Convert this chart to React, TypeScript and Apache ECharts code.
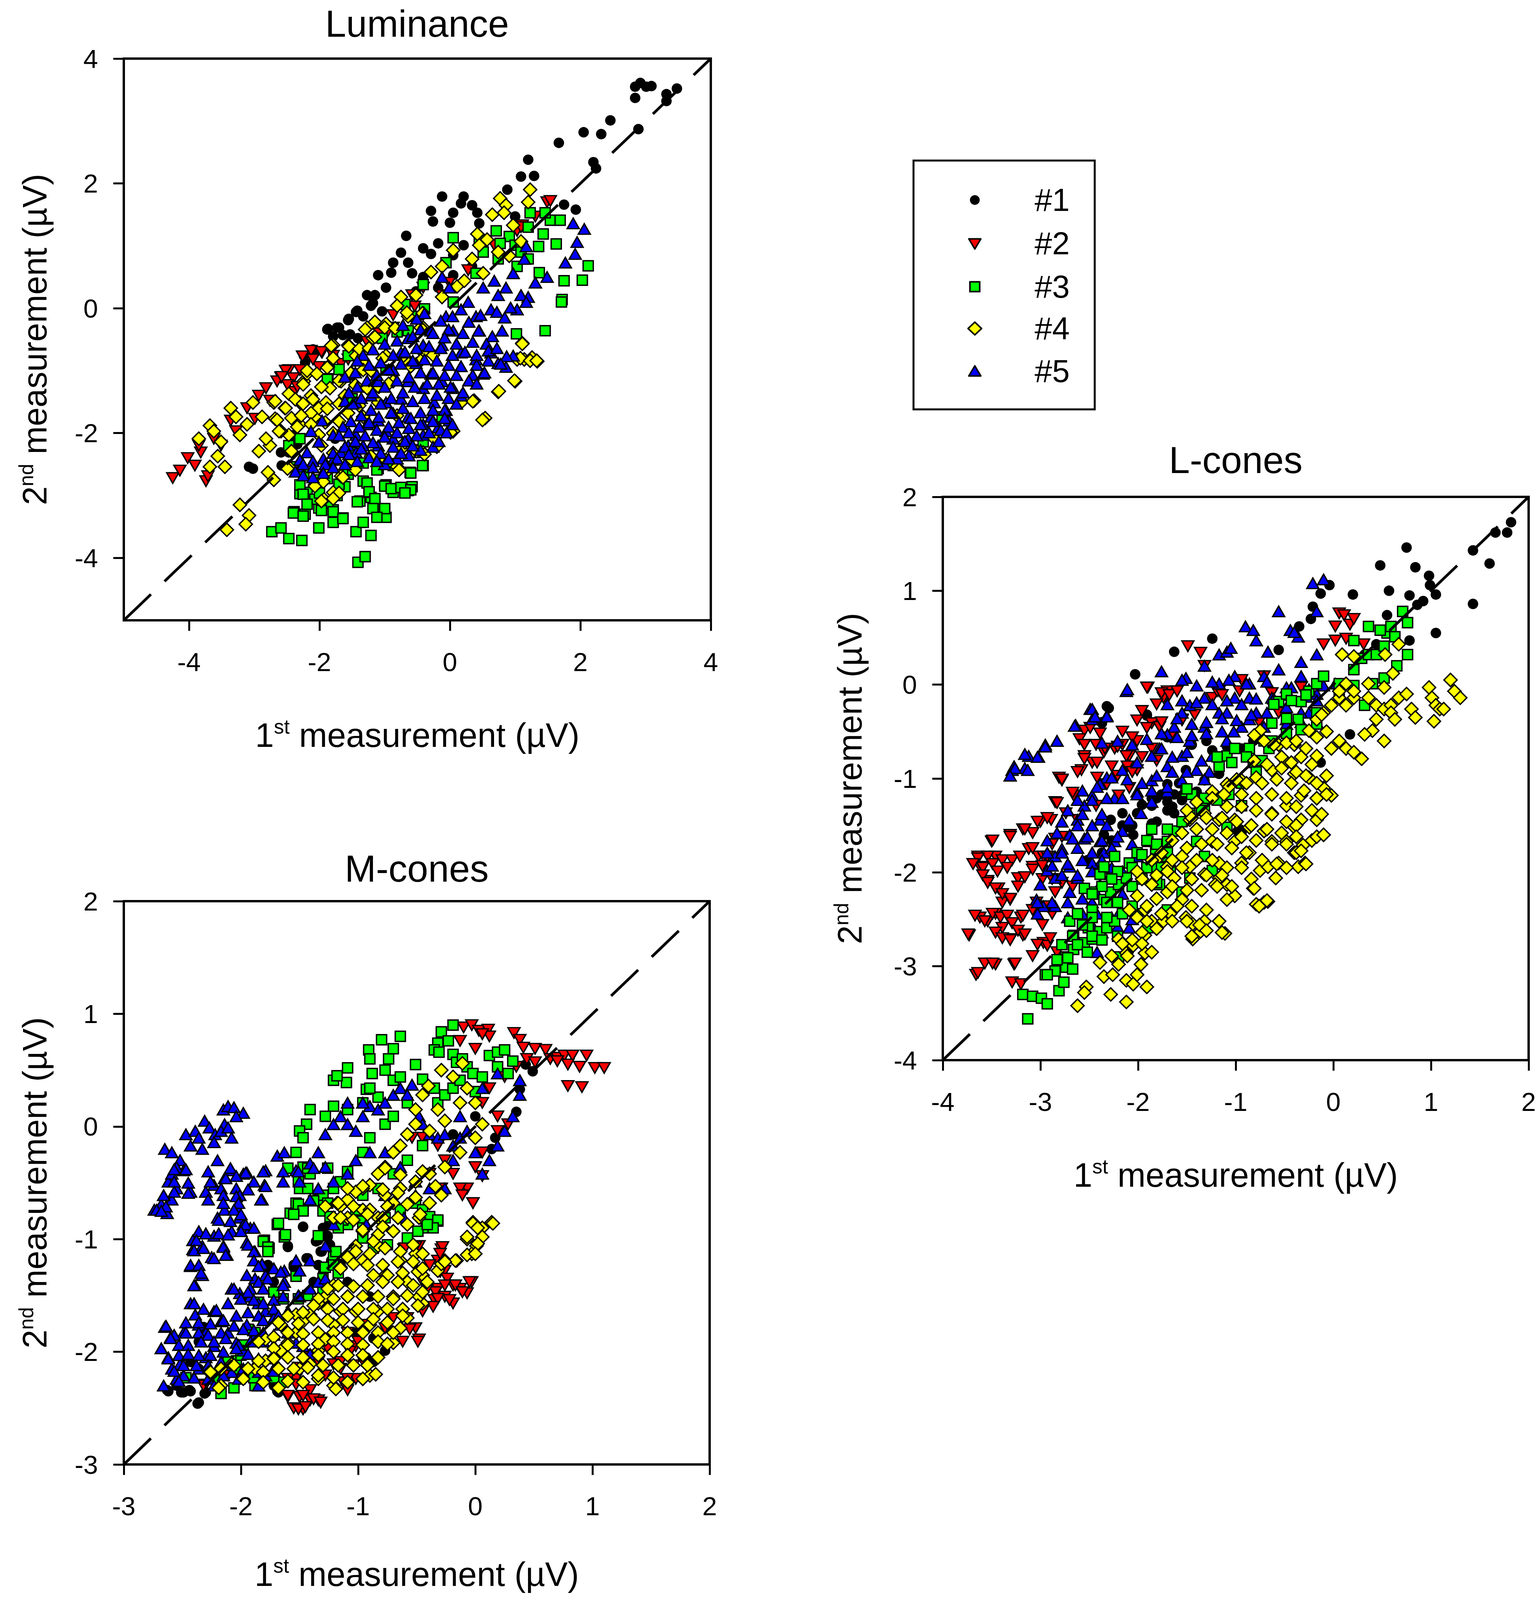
import React, { useEffect, useRef } from "react";
import * as echarts from "echarts";

const FONT = "'Liberation Sans', Arial, sans-serif";
const REF_W = 3938;
const REF_H = 4260;

const seriesNames = ["#1", "#2", "#3", "#4", "#5"];
const seriesColors = ["#000000", "#FF0000", "#00FF00", "#FFFF00", "#0000FF"];

const lumTicks = [-4, -2, 0, 2, 4];
const lTicks = [-4, -3, -2, -1, 0, 1, 2];
const mTicks = [-3, -2, -1, 0, 1, 2];

// ---------- Luminance ----------
const lumS1 = [[2.84,3.55],[2.92,3.61],[3.01,3.55],[3.09,3.56],[2.84,3.37],[3.32,3.43],[3.48,3.52],[3.32,3.32],[2.46,3.01],[2.05,2.82],[2.32,2.79],[2.89,2.87],[1.67,2.65],[1.20,2.38],[2.20,2.34],[2.24,2.24],[1.09,2.11],[1.29,2.12],[0.88,1.90],[-0.12,1.79],[0.21,1.79],[0.17,1.68],[0.34,1.65],[0.42,1.53],[1.00,1.47],[1.75,1.66],[1.93,1.58],[-0.29,1.56],[0.05,1.53],[-0.26,1.39],[0.00,1.37],[0.45,1.36],[-0.67,1.16],[-0.41,0.96],[-0.18,1.04],[-0.75,0.89],[-0.29,0.87],[0.05,0.85],[0.21,1.01],[-0.87,0.73],[-0.64,0.73],[-1.10,0.53],[-0.90,0.57],[-0.58,0.56],[-0.41,0.50],[-1.27,0.21],[-1.15,0.21],[-0.98,0.33],[-1.21,0.04],[-1.04,-0.05],[-1.33,-0.13],[-1.44,-0.06],[-1.56,-0.19],[-1.87,-0.33],[-1.70,-0.31],[-1.53,-0.42],[-1.41,-0.48],[-0.18,0.33],[-0.52,0.27],[0.05,0.53],[0.34,0.67],[-2.07,-0.71],[-2.24,-0.76],[-2.39,-2.03],[-2.47,-2.31],[-3.02,-2.57],[-3.08,-2.54],[-1.79,-0.76],[-2.59,-2.31]];
const lumS1b = [[-1.18,0.08],[-1.42,-0.04],[-1.55,-0.17],[-1.73,-0.31],[-1.88,-0.34],[-1.79,-0.45],[-1.64,-0.43],[-2.10,-0.66],[-2.22,-0.87],[-2.40,-2.04],[-2.34,-2.18],[-2.58,-2.52],[-1.61,-2.55],[-1.76,-2.09]];
const lumS2 = [[-4.25,-2.72],[-4.14,-2.60],[-4.02,-2.40],[-3.91,-2.52],[-3.74,-2.77],[-3.71,-2.69],[-3.82,-2.31],[-3.62,-2.09],[-3.28,-1.97],[-3.11,-1.60],[-2.93,-1.40],[-2.76,-1.48],[-2.59,-1.11],[-2.47,-0.99],[-2.30,-0.99],[-2.13,-0.68],[-1.96,-0.71],[-1.79,-0.76],[-1.56,-0.82],[-1.27,-0.54],[-1.10,-0.48],[-0.98,-0.42],[-0.58,0.21],[-0.41,0.33],[-0.12,0.21],[-0.01,0.41],[0.28,0.61],[0.68,1.01],[1.03,1.24],[1.11,1.33],[1.31,1.47],[1.49,1.70],[1.54,1.72],[1.09,1.30],[-0.87,-0.31],[-1.50,-0.71],[-2.65,-1.17],[-2.82,-1.28],[-3.51,-2.20],[-3.85,-2.20],[-3.36,-1.80],[-2.99,-1.77],[-2.39,-1.34],[-2.01,-0.94]];
const lumS2b = [[-0.87,-0.11],[-0.54,0.03],[-1.09,-0.40],[-1.97,-0.70],[-1.67,-0.89],[-2.26,-0.77],[-2.10,-0.82],[-2.52,-1.00],[-2.40,-1.12],[-2.49,-1.23],[-2.58,-1.10],[-2.34,-1.26]];
const lumS3 = [[-2.73,-3.58],[-2.59,-3.52],[-2.47,-3.69],[-2.27,-3.72],[-2.01,-3.52],[-2.39,-3.26],[-2.22,-3.30],[-2.01,-3.20],[-1.79,-3.43],[-1.64,-3.36],[-1.79,-3.23],[-1.44,-3.58],[-1.33,-3.43],[-1.21,-3.64],[-1.15,-3.18],[-1.04,-3.35],[-0.98,-3.35],[-1.41,-4.07],[-1.30,-3.98],[-1.38,-3.09],[-1.21,-3.03],[-2.30,-2.97],[-2.19,-2.95],[-2.07,-3.06],[-1.87,-3.12],[-1.73,-3.00],[-1.61,-2.86],[-1.33,-2.77],[-1.24,-2.95],[-0.98,-2.83],[-0.87,-2.95],[-0.64,-2.92],[-0.58,-2.86],[-0.61,-2.63],[-0.41,-2.52],[-1.56,-2.66],[-1.10,-2.57],[-2.30,-2.83],[-2.24,-2.66],[-2.01,-2.75],[-1.90,-2.60],[-2.36,-2.54],[-2.47,-2.20],[-2.30,-2.09],[1.75,0.44],[2.03,0.45],[2.12,0.68],[1.72,0.14],[1.46,-0.36],[1.02,-0.41],[1.63,1.03],[1.36,0.99],[1.37,0.57],[1.20,1.30],[1.23,1.53],[1.43,1.19],[1.54,1.41],[1.69,1.41],[1.46,1.53],[0.71,1.24],[0.91,1.15],[0.77,1.04],[1.00,1.01],[0.05,1.13],[0.45,1.10],[0.51,0.90],[0.74,0.79],[1.09,0.90],[1.20,0.79],[1.03,0.67],[0.40,0.56],[-0.06,0.73],[-0.41,0.38],[-0.64,-0.36],[-1.04,-0.48],[-1.56,-0.76],[-1.87,-1.13],[0.05,0.10],[-0.52,-0.13],[-0.98,-0.99],[-1.50,-1.45],[-0.41,-2.14],[-0.12,-1.74],[-0.47,-2.31],[-0.87,-2.49],[-1.50,-2.31]];
const lumS3b = [[-1.88,-1.14],[-1.70,-0.98],[-0.81,-0.38],[-0.69,0.06],[-0.39,-0.01],[-2.25,-2.98],[-2.19,-3.14],[-2.40,-3.28],[-2.25,-3.33],[-2.00,-2.96],[-1.97,-3.24],[-1.79,-3.26],[-1.64,-3.37],[-1.42,-3.10],[-1.27,-2.80],[-1.24,-2.94],[-1.15,-3.05],[-1.18,-3.21],[-1.00,-3.21],[-1.12,-3.35],[-1.00,-2.85],[-0.90,-2.89],[-0.75,-2.87],[-0.60,-2.91],[-0.69,-2.96],[-0.42,-2.52],[-0.60,-2.64],[-0.87,-2.52],[-1.12,-2.59],[-1.33,-2.48],[-1.49,-2.59],[-1.70,-2.82],[-1.88,-2.73],[1.71,0.10]];
const lumS4 = [[-3.85,-2.09],[-3.68,-1.88],[-3.62,-1.97],[-3.51,-2.14],[-3.36,-1.60],[-3.28,-1.74],[-3.22,-2.03],[-3.11,-1.86],[-3.02,-1.51],[-2.88,-1.74],[-2.76,-2.20],[-2.70,-1.51],[-2.68,-1.77],[-2.53,-1.60],[-2.47,-1.37],[-2.30,-1.51],[-2.24,-1.17],[-2.19,-1.05],[-2.13,-1.40],[-2.07,-1.74],[-2.01,-1.60],[-1.87,-0.94],[-1.84,-1.28],[-1.79,-0.59],[-1.56,-0.59],[-1.44,-0.76],[-1.33,-0.88],[-1.18,-0.48],[-1.27,-0.31],[-0.98,-0.25],[-0.81,0.04],[-0.75,0.18],[-0.52,0.21],[-0.41,-0.08],[-0.29,0.58],[-0.12,0.67],[-0.12,0.18],[0.05,0.93],[0.11,0.35],[0.22,0.44],[0.34,0.79],[0.42,1.19],[0.45,1.01],[0.57,1.10],[0.65,1.50],[0.77,1.76],[0.86,1.65],[0.83,1.53],[0.97,1.33],[1.20,1.70],[1.23,1.90],[1.09,1.07],[0.74,0.90],[0.91,0.84],[0.51,0.56],[-0.41,-0.31],[-0.64,-0.13],[-0.98,-0.76],[-1.33,-0.99],[-1.50,-1.05],[-1.67,-1.17],[-1.90,-1.51],[-2.13,-1.68],[-2.30,-1.86],[-2.47,-2.03],[-2.59,-1.97],[-2.82,-2.09],[-2.93,-2.29],[-3.56,-2.37],[-3.68,-2.54],[-3.45,-2.54],[-2.79,-2.63],[-2.70,-2.75],[-2.47,-2.54],[-2.07,-2.83],[-1.93,-3.06],[-1.79,-2.95],[-1.67,-2.69],[-1.50,-2.43],[-1.21,-2.37],[-0.98,-2.43],[-0.81,-2.54],[-0.75,-2.26],[-0.41,-2.31],[-0.24,-2.09],[0.05,-1.97],[0.17,-1.51],[0.37,-1.48],[0.54,-1.76],[0.74,-1.34],[1.00,-1.17],[1.11,-0.56],[1.03,-0.82],[1.14,-0.82],[1.26,-0.79],[1.34,-0.85],[-3.22,-3.15],[-3.08,-3.32],[-3.13,-3.46],[-3.42,-3.55],[-1.79,-2.00],[-1.56,-1.68],[-1.33,-1.74],[-1.10,-1.51],[-0.87,-1.17],[-0.64,-0.88],[-0.41,-0.71],[-1.27,-1.28],[-1.61,-1.40],[-2.01,-2.03]];
const lumS4b = [[-0.81,0.04],[-0.66,-0.07],[-0.42,-0.08],[-1.15,-0.22],[-1.30,-0.34],[-1.00,-0.31],[-0.84,-0.32],[-0.45,-0.31],[-1.15,-0.46],[-1.82,-0.60],[-1.55,-0.61],[-1.39,-0.65],[-1.24,-0.64],[-1.79,-0.80],[-1.03,-0.80],[-0.72,-0.77],[-2.19,-1.00],[-2.04,-1.05],[-1.88,-0.95],[-1.52,-1.04],[-1.21,-1.00],[-2.25,-1.22],[-1.97,-1.26],[-1.70,-1.16],[-1.45,-1.23],[-1.09,-1.26],[-0.94,-1.21],[-2.68,-1.49],[-2.52,-1.60],[-2.37,-1.46],[-2.25,-1.53],[-2.10,-1.46],[-1.88,-1.61],[-1.70,-1.53],[-1.39,-1.56],[-2.65,-1.79],[-2.43,-1.76],[-2.28,-1.72],[-2.13,-1.86],[-1.91,-1.83],[-1.70,-1.81],[-2.62,-1.97],[-2.34,-1.90],[-1.97,-2.20],[-1.79,-2.32],[-2.43,-2.29],[-2.49,-2.57],[-1.91,-2.64],[-1.64,-2.71],[-1.45,-2.59],[-2.07,-2.85],[-1.94,-2.78],[-1.70,-2.96],[-1.79,-3.05],[-1.97,-3.09],[-0.51,-2.29],[-0.39,-2.34],[-0.20,-2.22],[0.01,-1.99],[0.35,-1.49],[0.75,-1.33],[0.99,-1.16],[0.50,-1.79],[1.11,-0.57],[1.08,-0.80],[1.23,-0.84],[1.33,-0.84],[-0.78,-2.59],[-0.69,-2.15],[-0.81,-1.72],[-0.60,-0.93],[-0.45,-0.84],[-0.26,-0.75]];
const lumS5 = [[2.06,1.27],[1.89,1.36],[1.95,1.06],[1.92,0.87],[1.77,0.73],[1.49,0.50],[1.31,0.41],[1.20,0.18],[0.97,0.56],[0.86,0.33],[0.74,0.21],[0.63,-0.02],[0.51,0.33],[0.40,-0.13],[0.28,0.10],[0.17,-0.02],[-0.01,0.33],[-0.06,-0.13],[0.05,-0.36],[0.17,-0.71],[0.40,-0.82],[0.51,-1.05],[0.63,-0.71],[0.74,-0.88],[0.86,-0.94],[0.97,-0.76],[0.80,-0.36],[1.03,-0.02],[1.09,0.21],[-0.12,-0.59],[-0.29,-0.36],[-0.41,-0.59],[-0.52,-0.88],[-0.29,-1.05],[-0.12,-1.17],[0.05,-1.28],[0.17,-1.40],[-0.06,-1.63],[-0.24,-1.51],[-0.41,-1.28],[-0.64,-1.17],[-0.75,-1.45],[-0.87,-1.68],[-0.64,-1.74],[-0.41,-1.86],[-0.18,-1.91],[-0.01,-1.80],[-0.98,-1.97],[-1.10,-1.80],[-1.27,-1.86],[-1.44,-2.03],[-1.56,-2.20],[-1.67,-2.31],[-1.79,-2.03],[-2.01,-2.14],[-2.19,-2.31],[-2.30,-2.54],[-2.30,-2.43],[-2.13,-1.97],[-1.96,-1.80],[-1.44,-1.51],[-1.21,-1.40],[-0.98,-1.51],[-0.87,-0.99],[-0.75,-0.71],[-0.64,-0.48],[-1.10,-1.17],[-1.33,-2.20],[-1.10,-2.20],[-0.87,-2.09],[-0.64,-2.09],[-0.41,-2.03],[-1.79,-2.43],[-1.44,-2.31],[-0.12,0.50],[1.17,0.99],[1.14,0.79],[0.68,0.44],[0.45,-0.36],[-0.29,-1.74]];
const lumS5b = [[1.17,0.10],[0.93,0.01],[0.72,-0.06],[0.84,-0.15],[0.47,-0.11],[0.29,-0.22],[0.04,-0.13],[-0.14,-0.20],[-0.39,-0.08],[-0.51,-0.17],[-0.72,-0.27],[-0.02,-0.34],[0.20,-0.40],[0.44,-0.36],[0.65,-0.45],[0.56,-0.57],[0.35,-0.54],[0.10,-0.57],[-0.08,-0.47],[-0.26,-0.40],[-0.45,-0.34],[-0.57,-0.45],[-0.81,-0.52],[-1.00,-0.57],[-1.18,-0.66],[-1.33,-0.75],[-1.42,-0.84],[-1.61,-1.10],[-1.45,-1.03],[-1.24,-0.91],[-1.06,-0.87],[-0.87,-0.75],[-0.69,-0.70],[-0.51,-0.64],[-0.32,-0.61],[-0.14,-0.64],[0.04,-0.75],[0.23,-0.70],[0.41,-0.75],[0.59,-0.68],[0.72,-0.64],[0.87,-0.77],[0.78,-0.89],[0.59,-0.84],[0.41,-0.91],[0.53,-1.03],[0.35,-1.07],[0.17,-0.93],[-0.02,-0.91],[-0.20,-0.84],[-0.39,-0.82],[-0.57,-0.84],[-0.75,-0.89],[-0.94,-0.98],[-1.12,-1.07],[-1.27,-1.16],[-1.42,-1.26],[-1.55,-1.35],[-1.61,-1.49],[-1.49,-1.53],[-1.36,-1.44],[-1.18,-1.35],[-1.00,-1.26],[-0.81,-1.16],[-0.63,-1.10],[-0.45,-1.03],[-0.26,-1.03],[-0.08,-1.07],[0.10,-1.07],[0.29,-1.16],[0.41,-1.21],[0.20,-1.35],[0.01,-1.26],[-0.17,-1.21],[-0.35,-1.21],[-0.54,-1.26],[-0.72,-1.35],[-0.90,-1.44],[-1.06,-1.53],[-1.21,-1.63],[-1.36,-1.72],[-1.52,-1.81],[-1.64,-1.90],[-1.70,-2.04],[-1.55,-1.99],[-1.39,-1.90],[-1.24,-1.83],[-1.09,-1.74],[-0.90,-1.67],[-0.72,-1.60],[-0.57,-1.49],[-0.39,-1.44],[-0.20,-1.39],[-0.02,-1.44],[0.10,-1.53],[-0.08,-1.63],[-0.26,-1.63],[-0.45,-1.67],[-0.60,-1.76],[-0.78,-1.83],[-0.94,-1.90],[-1.12,-1.95],[-1.30,-2.04],[-1.45,-2.13],[-1.61,-2.22],[-1.79,-2.32],[-1.94,-2.41],[-2.10,-2.45],[-2.25,-2.50],[-2.37,-2.62],[-2.25,-2.68],[-2.10,-2.55],[-1.91,-2.50],[-1.73,-2.41],[-1.55,-2.34],[-1.36,-2.25],[-1.18,-2.15],[-1.00,-2.06],[-0.81,-1.99],[-0.63,-1.92],[-0.45,-1.86],[-0.26,-1.81],[-0.08,-1.76],[0.04,-1.86],[-0.14,-1.95],[-0.32,-1.99],[-0.51,-2.04],[-0.69,-2.13],[-0.87,-2.22],[-1.06,-2.32],[-1.24,-2.39],[-1.42,-2.45],[-1.61,-2.50],[-1.79,-2.55],[-1.94,-2.64],[-2.10,-2.71],[-1.00,-2.50],[-0.81,-2.41],[-0.63,-2.36],[-0.45,-2.27],[-0.26,-2.22],[-0.17,-2.13],[-0.05,-1.99],[-0.57,-2.20],[-0.75,-2.32],[-0.94,-2.41],[-1.12,-2.45]];

// ---------- L-cones ----------
const lcS1 = [[1.82,1.73],[1.78,1.62],[1.66,1.62],[1.43,1.43],[1.60,1.29],[1.43,0.86],[1.05,0.55],[0.75,1.46],[0.84,1.25],[0.48,1.27],[0.57,1.00],[0.98,1.16],[0.99,1.06],[0.78,0.95],[0.92,0.89],[1.05,0.96],[0.86,0.85],[0.20,0.96],[-0.13,0.97],[-0.04,1.06],[-0.21,0.83],[-0.23,0.70],[-0.35,0.62],[0.55,0.74],[0.78,0.47],[0.44,0.32],[-1.24,0.49],[-1.63,0.35],[-2.03,0.11],[-2.30,-0.25],[-2.37,-0.41],[-1.91,-0.33],[-0.56,0.37],[-0.82,-0.60],[-0.94,-0.68],[-1.09,-0.76],[-1.17,-0.95],[-1.32,-1.02],[-1.40,-1.14],[-1.55,-1.18],[-1.70,-1.25],[-1.86,-1.29],[-2.01,-1.37],[-2.16,-1.37],[-2.28,-1.44],[-2.35,-1.60],[-2.09,-1.52],[-1.70,-1.06],[-1.51,-0.91],[-1.63,-1.37],[-1.86,-1.48],[-2.05,-1.60],[-2.24,-1.67],[-0.98,-1.56],[0.17,-0.53],[-0.13,-0.83],[0.32,0.32],[0.44,0.43]];
const lcS1b = [[-2.32,-0.23],[-1.91,-0.32],[-2.37,-0.40],[-1.70,-0.56],[-1.58,-1.05],[-1.63,-1.17],[-1.81,-1.21],[-1.96,-1.28],[-1.86,-1.21],[-1.76,-1.17],[-1.65,-1.30],[-1.55,-1.23],[-1.70,-1.34],[-1.81,-1.46],[-2.06,-1.50],[-2.16,-1.50],[-2.27,-1.66],[-2.37,-1.79],[-2.42,-1.95],[-2.52,-1.87],[-1.45,-0.64],[-1.30,-0.60],[-1.09,-0.66],[-0.99,-0.68],[-0.79,-0.58],[-1.19,-0.77],[-0.96,-1.54],[-0.94,-1.58],[-1.24,-0.70]];
const lcS2 = [[-3.73,-2.67],[-3.66,-3.09],[-3.64,-1.83],[-3.62,-1.94],[-3.54,-2.09],[-3.50,-1.67],[-3.46,-1.83],[-3.43,-2.17],[-3.39,-2.32],[-3.31,-1.60],[-3.31,-2.29],[-3.27,-2.98],[-3.23,-2.06],[-3.18,-2.67],[-3.18,-1.54],[-3.12,-1.75],[-3.08,-1.94],[-3.02,-1.83],[-3.00,-1.46],[-3.62,-2.48],[-3.54,-2.52],[-3.46,-2.44],[-3.39,-2.59],[-3.31,-2.71],[-3.20,-2.48],[-3.46,-2.98],[-3.29,-3.17],[-3.20,-3.19],[-2.97,-2.75],[-2.93,-2.78],[-2.89,-1.44],[-2.85,-1.25],[-2.81,-0.99],[-2.78,-1.02],[-2.66,-1.18],[-2.58,-0.91],[-2.55,-0.76],[-2.47,-0.83],[-2.43,-0.64],[-2.55,-0.49],[-2.35,-0.72],[-2.24,-0.68],[-2.16,-0.64],[-2.09,-0.76],[-2.01,-0.60],[-1.86,-0.41],[-1.78,-0.45],[-1.74,-0.14],[-1.70,-0.07],[-1.90,-0.03],[-2.12,-0.76],[-2.32,-1.06],[-2.43,-1.29],[-2.20,-1.18],[-2.09,-1.10],[-2.01,-0.91],[-1.86,-0.68],[-1.67,-0.56],[-1.55,-0.37],[-1.36,0.34],[-1.32,0.20],[-1.49,0.41],[-1.17,-0.07],[-1.24,-0.14],[-0.94,0.05],[-0.71,0.09],[-0.63,-0.09],[-0.56,-0.30],[-0.33,-0.03],[-0.10,0.43],[0.02,0.47],[0.02,0.62],[0.06,0.76],[0.11,0.74],[0.17,0.64],[0.21,0.70],[0.31,0.43],[0.13,0.49],[-2.62,-1.44],[-2.74,-1.37],[-2.85,-1.64],[-2.97,-1.83],[-3.04,-2.32],[-3.08,-2.40]];
const lcS2b = [[-1.91,-0.03],[-1.76,-0.09],[-1.68,-0.11],[-1.60,-0.07],[-1.96,-0.28],[-1.81,-0.21],[-2.01,-0.38],[-2.16,-0.50],[-2.39,-0.52],[-2.49,-0.46],[-2.60,-0.58],[-2.55,-0.64],[-2.34,-0.68],[-2.21,-0.66],[-2.06,-0.56],[-1.91,-0.46],[-1.76,-0.40],[-1.55,-0.38],[-1.42,-0.32],[-1.19,-0.07],[-1.14,-0.11],[-0.96,-0.07],[-0.76,-0.40],[-0.63,-0.09],[-2.55,-0.79],[-2.42,-0.83],[-2.27,-0.87],[-2.11,-0.87],[-1.96,-0.77],[-1.81,-0.81],[-2.62,-0.93],[-2.42,-0.99],[-2.21,-0.97],[-2.06,-0.93],[-2.78,-1.01],[-2.67,-1.15],[-2.83,-1.26],[-2.93,-1.42],[-3.03,-1.46],[-3.08,-1.58],[-3.16,-1.54],[-3.31,-1.62],[-3.49,-1.66],[-3.54,-1.83],[-3.64,-1.85],[-3.69,-1.91],[-3.59,-1.95],[-3.49,-1.91],[-3.39,-1.87],[-3.29,-1.87],[-3.21,-1.83],[-3.34,-1.95],[-3.44,-1.99],[-3.59,-2.03],[-3.54,-2.11],[-3.46,-2.17],[-3.39,-2.23],[-3.31,-2.28],[-3.23,-2.15],[-3.16,-2.05],[-3.08,-1.97],[-2.98,-1.93],[-2.93,-1.83],[-2.88,-1.70],[-2.78,-1.62],[-3.08,-1.74],[-2.98,-2.07],[-2.88,-2.07],[-2.78,-2.11],[-2.67,-2.15],[-2.85,-2.21],[-2.93,-2.36],[-2.88,-2.44],[-2.98,-2.56],[-2.90,-2.70],[-3.67,-2.46],[-3.57,-2.52],[-3.49,-2.44],[-3.41,-2.48],[-3.34,-2.46],[-3.29,-2.54],[-3.23,-2.62],[-3.18,-2.46],[-3.46,-2.64],[-3.39,-2.70],[-3.31,-2.72],[-3.16,-2.66],[-3.74,-2.66],[-3.57,-2.97],[-3.49,-2.97],[-3.26,-2.97],[-3.64,-3.07],[-3.03,-2.77],[-3.08,-2.89],[-2.83,-2.85]];
const lcS3 = [[-3.13,-3.56],[-3.18,-3.30],[-3.08,-3.32],[-2.99,-3.34],[-2.93,-3.40],[-2.95,-3.09],[-2.81,-3.26],[-2.76,-3.17],[-2.74,-3.01],[-2.85,-3.05],[-2.74,-2.90],[-2.66,-2.82],[-2.55,-2.75],[-2.47,-2.71],[-2.39,-2.63],[-2.32,-2.59],[-2.24,-2.52],[-2.51,-2.59],[-2.66,-2.67],[-2.70,-2.52],[-2.62,-2.44],[-2.47,-2.40],[-2.35,-2.29],[-2.28,-2.21],[-2.20,-2.13],[-2.12,-2.06],[-2.47,-2.21],[-2.55,-2.17],[-2.39,-2.02],[-2.35,-1.94],[-2.24,-1.83],[-2.09,-1.90],[-2.01,-1.79],[-1.90,-1.67],[-1.82,-1.75],[-1.74,-1.83],[-1.67,-1.98],[-1.86,-1.94],[-1.70,-1.67],[-1.63,-1.56],[-1.51,-1.14],[-1.47,-1.37],[-1.32,-1.29],[-1.17,-0.87],[-1.09,-0.76],[-1.01,-0.68],[-0.86,-0.68],[-0.71,-0.60],[-0.63,-0.41],[-0.56,-0.18],[-0.48,-0.10],[-0.33,-0.18],[-0.25,-0.07],[-0.17,0.01],[-0.10,0.09],[0.06,0.01],[0.21,0.16],[0.29,0.28],[0.36,0.32],[0.44,0.32],[0.52,0.41],[0.55,0.55],[0.59,0.62],[0.71,0.78],[0.76,0.66],[0.76,0.32],[0.65,0.20],[0.52,0.07],[0.40,0.01],[0.21,-0.01],[0.06,-0.14],[0.32,-0.22],[0.21,0.47],[0.36,0.62],[0.48,0.58],[0.63,0.51],[-0.17,-0.30],[-0.36,-0.37],[-0.63,-0.60],[-0.82,-0.83],[-1.32,-1.83],[-1.24,-1.98],[-1.47,-2.06],[-1.55,-2.21],[-1.70,-2.40],[-1.90,-2.59],[-2.09,-2.78],[-2.20,-2.90],[-2.01,-2.44],[-1.78,-2.13],[-1.40,-1.67],[-1.09,-1.52],[-0.94,-1.29]];
const lcS3b = [[-0.61,-0.21],[-0.48,-0.36],[-0.43,-0.17],[-0.28,-0.11],[-0.17,-0.42],[-0.33,-0.48],[-0.48,-0.52],[-0.66,-0.68],[-0.73,-0.81],[-0.89,-0.77],[-1.04,-0.83],[-1.19,-0.77],[-0.79,-0.93],[-0.94,-1.05],[-1.07,-1.17],[-1.19,-1.23],[-1.32,-1.21],[-1.45,-1.17],[-1.50,-1.11],[-1.35,-1.34],[-1.55,-1.46],[-1.70,-1.54],[-1.86,-1.54],[-1.91,-1.66],[-1.81,-1.70],[-1.70,-1.79],[-1.96,-1.81],[-2.06,-1.95],[-2.21,-1.99],[-2.27,-2.07],[-2.37,-2.15],[-2.47,-2.23],[-2.32,-2.32],[-2.21,-2.32],[-2.06,-2.15],[-1.96,-2.07],[-1.91,-1.95],[-1.76,-1.95],[-1.81,-2.11],[-2.06,-2.36],[-2.16,-2.44],[-2.32,-2.48],[-2.47,-2.48],[-2.57,-2.56],[-2.67,-2.68],[-2.78,-2.77],[-2.83,-2.93],[-2.72,-2.91],[-2.62,-2.77],[-2.47,-2.68],[-2.37,-2.72],[-2.21,-2.68],[-2.52,-2.85],[-2.67,-3.03],[-2.93,-3.09]];
const lcS4 = [[-2.62,-3.42],[-2.53,-3.22],[-2.55,-3.28],[-2.28,-3.30],[-2.12,-3.38],[-2.35,-3.11],[-2.26,-3.09],[-2.12,-3.15],[-2.05,-3.19],[-1.91,-3.22],[-2.01,-3.09],[-1.97,-2.98],[-1.93,-2.86],[-2.12,-2.86],[-2.20,-2.98],[-2.39,-2.96],[-2.20,-2.71],[-2.05,-2.78],[-1.93,-2.67],[-1.86,-2.52],[-1.74,-2.52],[-1.67,-2.44],[-1.51,-2.48],[-1.44,-2.55],[-1.36,-2.63],[-1.32,-2.52],[-1.17,-2.52],[-1.11,-2.65],[-1.44,-2.71],[-1.55,-2.29],[-1.70,-2.21],[-1.63,-2.06],[-1.86,-2.13],[-2.01,-2.25],[-2.09,-2.40],[-1.93,-2.40],[-1.78,-1.83],[-1.70,-1.94],[-1.55,-1.83],[-1.47,-1.94],[-1.32,-2.02],[-1.17,-2.06],[-1.09,-2.13],[-1.01,-2.25],[-1.09,-2.29],[-1.21,-2.13],[-0.94,-1.90],[-0.82,-2.17],[-0.75,-1.98],[-0.67,-1.94],[-0.59,-2.06],[-0.56,-1.90],[-0.71,-2.32],[-0.79,-2.34],[-0.67,-2.31],[-0.36,-1.94],[-0.29,-1.90],[-0.10,-1.60],[-0.31,-1.71],[-0.40,-1.79],[-0.48,-1.67],[-0.63,-1.67],[-0.71,-1.56],[-0.86,-1.52],[-1.01,-1.44],[-1.17,-1.44],[-1.32,-1.37],[-1.40,-1.25],[-1.47,-1.44],[-1.24,-1.14],[-1.09,-1.06],[-0.94,-1.02],[-0.79,-0.99],[-0.63,-0.91],[-0.48,-0.83],[-0.40,-0.95],[-0.25,-0.99],[-0.17,-0.76],[-0.02,-0.68],[0.06,-0.60],[0.13,-0.68],[0.21,-0.72],[0.29,-0.79],[-0.17,-1.21],[-0.02,-1.18],[-0.10,-1.10],[-0.33,-1.18],[-0.48,-1.29],[-0.63,-1.37],[-0.75,-0.49],[-0.56,-0.64],[-0.40,-0.64],[-0.25,-0.49],[-0.17,-0.37],[-0.10,-0.30],[-0.02,-0.22],[0.06,-0.14],[0.13,-0.22],[0.21,-0.14],[0.36,-0.14],[0.44,-0.22],[0.52,-0.26],[0.59,-0.22],[0.67,-0.14],[0.75,-0.10],[0.52,-0.03],[0.36,0.01],[0.21,-0.07],[0.13,0.01],[0.06,-0.07],[0.40,-0.49],[0.52,-0.60],[0.32,-0.53],[0.44,-0.37],[0.59,-0.30],[0.63,-0.37],[0.80,-0.26],[0.84,-0.35],[0.98,-0.03],[1.01,-0.14],[1.05,-0.22],[1.09,-0.26],[1.13,-0.26],[1.03,-0.39],[1.20,0.05],[1.24,-0.07],[1.30,-0.14],[0.09,0.32],[0.21,0.30],[0.53,0.32],[0.61,0.12],[0.67,0.43],[-0.17,-1.44],[-0.33,-1.44],[-0.40,-1.52],[-0.86,-1.79],[-1.01,-1.67],[-1.24,-1.67],[-1.17,-1.90]];
const lcS4b = [[-0.81,-0.54],[-0.71,-0.60],[-0.61,-0.64],[-0.48,-0.62],[-0.38,-0.60],[-0.28,-0.68],[-0.17,-0.56],[-0.07,-0.50],[-0.12,-0.32],[-0.53,-0.77],[-0.43,-0.83],[-0.33,-0.77],[-0.22,-0.85],[-0.07,-0.97],[-0.17,-1.05],[-0.28,-0.97],[-0.38,-0.93],[-0.53,-0.89],[-0.68,-0.85],[-0.81,-0.81],[-0.99,-1.01],[-0.89,-1.05],[-0.73,-1.05],[-0.58,-1.01],[-0.43,-1.05],[-0.30,-1.13],[-0.17,-1.21],[-0.07,-1.17],[-1.07,-1.09],[-1.12,-1.17],[-0.94,-1.17],[-0.79,-1.21],[-0.63,-1.17],[-0.48,-1.21],[-0.38,-1.30],[-0.22,-1.34],[-0.12,-1.38],[-0.38,-1.50],[-0.48,-1.46],[-0.63,-1.38],[-0.79,-1.34],[-0.94,-1.30],[-1.09,-1.30],[-1.24,-1.21],[-1.40,-1.25],[-1.50,-1.34],[-1.45,-1.42],[-1.30,-1.42],[-1.14,-1.42],[-0.99,-1.46],[-0.84,-1.50],[-0.68,-1.54],[-0.53,-1.58],[-0.38,-1.62],[-0.22,-1.66],[-0.48,-1.70],[-0.63,-1.70],[-0.79,-1.66],[-0.94,-1.62],[-1.09,-1.58],[-1.24,-1.54],[-1.40,-1.54],[-1.55,-1.58],[-1.65,-1.66],[-1.76,-1.79],[-1.65,-1.87],[-1.50,-1.74],[-1.35,-1.70],[-1.19,-1.70],[-1.04,-1.74],[-0.89,-1.79],[-0.73,-1.87],[-0.58,-1.91],[-0.48,-1.95],[-0.38,-1.79],[-0.28,-1.91],[-0.17,-1.62],[-0.84,-2.07],[-0.94,-1.95],[-1.09,-1.95],[-1.24,-1.87],[-1.40,-1.87],[-1.55,-1.95],[-1.70,-1.99],[-1.81,-2.03],[-1.96,-2.07],[-2.01,-1.99],[-1.86,-1.87],[-1.45,-2.07],[-1.30,-2.03],[-1.14,-2.03],[-1.04,-2.15],[-1.19,-2.15],[-1.35,-2.19],[-1.50,-2.19],[-1.65,-2.15],[-1.81,-2.28],[-1.91,-2.36],[-2.01,-2.48],[-1.91,-2.52],[-1.76,-2.44],[-1.60,-2.36],[-1.45,-2.36],[-1.30,-2.40],[-1.17,-2.52],[-1.37,-2.56],[-1.50,-2.52],[-1.65,-2.52],[-1.81,-2.60],[-1.96,-2.64],[-2.06,-2.72],[-2.16,-2.76],[-2.27,-2.89],[-2.11,-2.89],[-1.96,-2.76],[-1.86,-2.85],[-1.45,-2.68],[-1.30,-2.62],[-1.14,-2.64],[-0.81,-2.17],[-0.68,-2.30],[-0.76,-2.36],[-0.33,-1.77],[-0.10,-1.60]];
const lcS5 = [[-3.29,-0.91],[-3.27,-0.87],[-3.16,-0.89],[-3.12,-0.76],[-3.02,-0.77],[-2.95,-0.64],[-2.83,-0.60],[-2.64,-0.43],[-2.49,-0.26],[-2.47,-0.37],[-2.32,-0.33],[-2.12,-0.07],[-1.76,0.14],[-1.51,0.07],[-1.32,0.20],[-1.17,0.32],[-1.09,0.35],[-1.05,0.39],[-0.90,0.62],[-0.82,0.58],[-0.79,0.47],[-0.67,0.35],[-0.56,0.78],[-0.44,0.58],[-0.36,0.51],[-0.40,0.56],[-0.17,0.78],[-0.21,1.08],[-0.10,1.12],[-0.17,0.32],[-0.33,0.24],[-0.56,0.16],[-0.71,0.09],[-0.86,0.01],[-1.01,0.09],[-1.17,0.01],[-1.32,-0.14],[-1.47,-0.22],[-1.55,-0.30],[-1.63,-0.45],[-1.70,-0.53],[-1.78,-0.68],[-1.86,-0.76],[-2.01,-0.83],[-2.16,-0.91],[-2.32,-0.99],[-2.39,-1.06],[-2.47,-1.18],[-2.55,-1.29],[-2.62,-1.44],[-2.70,-1.60],[-2.78,-1.75],[-2.85,-1.83],[-2.93,-1.98],[-3.00,-2.13],[-3.04,-2.29],[-2.97,-2.36],[-2.85,-2.36],[-2.70,-2.21],[-2.62,-2.06],[-2.47,-1.90],[-2.35,-1.79],[-2.24,-1.67],[-2.16,-1.56],[-2.09,-1.44],[-1.97,-1.37],[-1.86,-1.25],[-1.70,-1.14],[-1.55,-1.02],[-1.40,-0.91],[-1.24,-0.76],[-1.09,-0.60],[-0.94,-0.45],[-0.79,-0.30],[-0.63,-0.14],[-0.48,-0.03],[-0.33,0.09],[-1.55,-0.76],[-1.70,-0.87],[-1.86,-1.02],[-2.01,-1.14],[-2.24,-1.21],[-2.39,-1.44],[-2.55,-1.64],[-2.70,-1.94],[-1.32,-0.45],[-1.17,-0.30],[-1.01,-0.14],[-0.86,-0.14],[-1.47,-0.60],[-2.28,-2.02],[-2.39,-2.13],[-2.47,-2.32],[-2.09,-2.59],[-2.20,-2.44],[-2.85,-2.06],[-2.39,-1.67],[-0.17,-0.10],[0.02,0.01],[-0.25,-0.30],[-0.48,-0.37],[-0.71,-0.45],[-0.86,-0.37],[-1.09,-0.30]];
const lcS5b = [[-2.11,-0.05],[-2.47,-0.26],[-2.32,-0.34],[-2.44,-0.34],[-2.65,-0.44],[-2.83,-0.60],[-2.95,-0.66],[-3.16,-0.74],[-3.03,-0.77],[-3.26,-0.89],[-3.13,-0.91],[-3.31,-0.97],[-1.55,0.05],[-1.40,-0.01],[-1.24,0.03],[-1.07,0.05],[-0.89,0.01],[-0.68,0.03],[-0.43,-0.03],[-0.25,-0.05],[-0.10,-0.01],[-1.70,-0.21],[-1.55,-0.17],[-1.40,-0.19],[-1.24,-0.21],[-1.09,-0.17],[-0.94,-0.21],[-0.79,-0.15],[-0.61,-0.15],[-0.45,-0.11],[-0.28,-0.13],[-1.60,-0.36],[-1.45,-0.42],[-1.30,-0.40],[-1.14,-0.36],[-0.99,-0.38],[-0.84,-0.32],[-0.68,-0.30],[-0.48,-0.24],[-0.33,-0.30],[-0.17,-0.17],[-1.76,-0.52],[-1.60,-0.56],[-1.45,-0.54],[-1.30,-0.52],[-1.14,-0.50],[-1.02,-0.50],[-0.48,-0.42],[-0.33,-0.40],[-0.17,-0.40],[-2.37,-0.62],[-2.21,-0.60],[-2.06,-0.64],[-1.91,-0.58],[-1.76,-0.68],[-1.65,-0.77],[-1.50,-0.72],[-1.35,-0.81],[-1.27,-0.93],[-1.32,-1.01],[-1.50,-0.93],[-1.65,-0.93],[-1.81,-0.97],[-1.96,-1.05],[-2.11,-1.01],[-2.27,-0.99],[-2.42,-1.09],[-2.57,-1.13],[-2.62,-1.23],[-2.47,-1.23],[-2.32,-1.21],[-2.16,-1.21],[-2.01,-1.17],[-1.86,-1.13],[-1.70,-1.09],[-2.37,-1.38],[-2.57,-1.38],[-2.72,-1.34],[-2.78,-1.46],[-2.62,-1.50],[-2.47,-1.50],[-2.32,-1.50],[-2.21,-1.62],[-2.37,-1.66],[-2.52,-1.62],[-2.67,-1.64],[-2.83,-1.58],[-2.93,-1.66],[-2.93,-1.79],[-2.78,-1.79],[-2.62,-1.74],[-2.47,-1.79],[-2.27,-1.74],[-2.37,-1.87],[-2.57,-1.87],[-2.72,-1.91],[-2.88,-1.93],[-2.78,-2.03],[-2.62,-2.03],[-2.47,-1.99],[-2.27,-1.95],[-2.16,-1.99],[-2.01,-1.83],[-2.06,-1.70],[-3.03,-2.32],[-3.03,-2.44],[-2.88,-2.32],[-2.72,-2.32],[-2.57,-2.28],[-2.42,-2.23],[-2.27,-2.28],[-2.16,-2.23],[-2.11,-2.07],[-2.72,-2.48],[-2.57,-2.44],[-2.42,-2.44],[-2.27,-2.48],[-2.21,-2.58],[-2.37,-2.64],[-2.47,-2.56],[-2.06,-2.50],[-2.42,-2.85]];

// ---------- M-cones ----------
const mcS1 = [[-2.63,-2.34],[-2.55,-2.30],[-2.51,-2.36],[-2.44,-2.34],[-2.37,-2.46],[-2.31,-2.37],[-1.69,-2.35],[-1.72,-2.30],[-1.47,-0.89],[-1.60,-1.06],[-1.44,-1.17],[-1.34,-1.01],[-1.26,-0.97],[-1.25,-0.87],[-1.31,-1.11],[-1.23,-1.19],[-1.55,-1.25],[-1.09,-1.38],[-0.90,-1.51],[-0.77,-1.76],[-0.93,-2.05],[-0.96,-2.24],[0.35,0.13],[0.14,-0.20],[0.17,-0.10],[0.38,0.33],[0.49,0.49],[0.43,0.55],[-1.15,-1.22],[-1.02,-1.83],[-2.36,-2.15],[-2.23,-2.24],[-1.85,-2.30],[-1.28,-1.57],[-0.77,-1.99],[-0.19,-0.07],[0.00,0.09]];
const mcS1b = [[-1.47,-0.89],[-1.60,-1.07],[-1.43,-1.17],[-1.55,-1.23],[-1.36,-1.02],[-1.30,-0.90],[-1.26,-0.98],[-1.24,-1.05],[-1.32,-1.11],[-1.34,-1.23],[-1.30,-1.30],[-1.38,-1.38],[-1.72,-1.38],[-1.75,-1.26],[-1.77,-1.23],[-2.32,-1.78],[-2.32,-1.83],[-2.36,-1.91],[-2.43,-2.09],[-2.62,-2.35],[-2.55,-2.30],[-2.49,-2.36],[-2.43,-2.35],[-2.36,-2.45],[-2.30,-2.36],[-1.72,-2.27],[-1.68,-2.36],[-0.96,-2.05],[-0.87,-2.09],[-0.75,-1.77],[-0.87,-1.88]];
const mcS2 = [[-0.10,0.88],[-0.03,0.90],[0.03,0.85],[0.11,0.86],[0.12,0.80],[-0.13,0.76],[0.00,0.69],[0.06,0.82],[0.33,0.83],[0.38,0.77],[0.41,0.70],[0.51,0.69],[0.60,0.68],[0.44,0.60],[0.51,0.57],[0.64,0.60],[0.70,0.61],[0.76,0.63],[0.83,0.63],[0.95,0.63],[0.79,0.55],[0.89,0.53],[1.02,0.52],[1.10,0.52],[0.79,0.36],[0.91,0.35],[0.70,0.58],[0.35,0.53],[0.25,0.44],[0.12,0.34],[0.06,0.21],[0.19,0.09],[0.28,0.02],[0.19,-0.04],[0.06,-0.23],[0.00,-0.36],[-0.07,-0.55],[-0.02,-0.68],[-0.13,-0.55],[-0.19,-0.42],[-0.26,-0.30],[-0.32,-0.17],[-0.45,-0.10],[-0.54,-0.10],[-0.39,-0.42],[-0.29,-0.55],[-0.61,-1.09],[-0.48,-1.06],[-0.29,-1.09],[-0.32,-1.19],[-0.26,-1.28],[-0.03,-1.38],[-0.19,-1.41],[-0.13,-1.44],[-0.07,-1.48],[-0.26,-1.51],[-0.19,-1.57],[-0.35,-1.54],[-0.32,-1.44],[-0.45,-1.38],[-0.45,-1.64],[-0.51,-1.79],[-0.48,-1.89],[-0.58,-1.70],[-0.70,-1.70],[-0.77,-1.79],[-0.96,-1.76],[-1.09,-1.83],[-1.02,-1.95],[-0.96,-2.08],[-1.15,-2.15],[-1.21,-2.11],[-1.28,-2.21],[-1.34,-2.43],[-1.41,-2.43],[-1.50,-2.40],[-1.47,-2.51],[-1.55,-2.50],[-1.60,-2.24],[-1.53,-2.24],[-1.41,-2.34],[-1.60,-2.40],[-2.30,-2.29],[-2.11,-2.21],[-1.02,-2.24],[-1.09,-2.34]];
const mcS2b = [[-0.60,-1.08],[-0.51,-1.07],[-0.28,-1.07],[-0.30,-1.13],[-0.02,-0.68],[-0.11,-0.61],[0.06,-0.44],[-0.39,-1.23],[-0.30,-1.29],[-0.24,-1.35],[-0.17,-1.41],[-0.11,-1.47],[-0.26,-1.41],[-0.34,-1.47],[-0.41,-1.44],[-0.32,-1.53],[-0.22,-1.54],[-0.36,-1.60],[-0.05,-1.38],[-0.56,-1.80],[-0.49,-1.91],[-0.62,-1.91],[-1.00,-1.91],[-1.07,-2.00],[-1.04,-2.12],[-1.15,-2.09],[-1.26,-1.97],[-1.34,-2.09],[-1.41,-2.03],[-1.51,-2.14],[-1.60,-2.24],[-1.53,-2.29],[-1.47,-2.39],[-1.38,-2.42],[-1.32,-2.45],[-1.51,-2.51],[-1.45,-2.49],[-1.60,-2.39],[-1.13,-2.27],[-1.09,-2.24],[-2.32,-2.30]];
const mcS3 = [[-0.29,0.84],[-0.19,0.90],[-0.23,0.76],[-0.32,0.74],[-0.35,0.68],[-0.31,0.66],[-0.19,0.64],[-0.16,0.57],[-0.11,0.60],[-0.07,0.53],[-0.02,0.47],[0.06,0.44],[0.12,0.63],[0.19,0.66],[0.25,0.68],[0.32,0.58],[0.19,0.53],[0.28,0.47],[-0.64,0.80],[-0.70,0.69],[-0.80,0.77],[-0.74,0.60],[-0.91,0.68],[-0.90,0.60],[-0.88,0.47],[-0.77,0.50],[-0.70,0.41],[-0.64,0.44],[-0.51,0.55],[-0.45,0.42],[-0.35,0.34],[-0.32,0.21],[-0.26,0.28],[-0.19,0.34],[-0.13,0.41],[0.00,0.31],[-1.21,0.41],[-1.10,0.39],[-1.09,0.52],[-1.18,0.45],[-0.93,0.33],[-0.83,0.26],[-0.90,0.34],[-0.96,0.21],[-1.09,0.15],[-1.21,0.18],[-1.28,0.09],[-1.41,0.15],[-1.44,0.02],[-1.50,-0.04],[-1.47,-0.10],[-1.53,-0.23],[-1.47,-0.36],[-1.41,-0.42],[-1.50,-0.55],[-1.53,-0.68],[-1.58,-0.77],[-1.47,-0.74],[-1.34,-0.65],[-1.21,-0.55],[-1.15,-0.49],[-1.09,-0.42],[-0.96,-0.23],[-0.90,-0.10],[-0.77,0.02],[-0.70,0.09],[-0.58,0.21],[-0.45,-0.17],[-0.58,-0.30],[-0.70,-0.42],[-0.83,-0.55],[-0.96,-0.61],[-1.02,-0.74],[-0.96,-0.84],[-0.77,-0.81],[-0.64,-0.74],[-0.51,-0.68],[-0.39,-0.81],[-0.32,-0.84],[-0.42,-0.90],[-0.45,-0.74],[-1.69,-0.87],[-1.63,-0.98],[-1.80,-1.01],[-1.76,-1.08],[-1.28,-1.25],[-1.21,-1.16],[-1.53,-1.33],[-1.88,-1.83],[-2.04,-2.08],[-1.88,-2.30],[-2.17,-2.37],[-1.66,-2.27],[-1.09,-0.87],[-1.34,-0.97]];
const mcS3b = [[-1.60,-0.37],[-1.43,-0.37],[-1.26,-0.37],[-1.09,-0.40],[-1.51,-0.49],[-1.43,-0.55],[-1.30,-0.61],[-1.38,-0.66],[-1.26,-0.68],[-1.51,-0.69],[-1.47,-0.75],[-1.55,-0.78],[-1.68,-0.86],[-1.62,-0.96],[-1.81,-1.02],[-1.77,-1.07],[-1.77,-1.11],[-1.30,-0.75],[-1.24,-0.80],[-1.13,-0.83],[-0.96,-0.90],[-0.96,-0.99],[-0.87,-1.08],[-0.75,-1.05],[-0.58,-0.99],[-0.49,-0.93],[-0.39,-0.80],[-0.32,-0.83],[-0.36,-0.90],[-0.41,-0.87],[-1.17,-0.90],[-1.19,-1.11],[-1.21,-1.23],[-1.17,-1.30],[-1.30,-1.35],[-1.30,-1.47],[-1.43,-1.50],[-1.51,-1.53],[-1.64,-1.53],[-1.72,-1.47],[-1.85,-1.56],[-1.94,-1.80],[-1.98,-1.94],[-2.00,-2.03],[-2.11,-2.09],[-2.02,-2.18],[-1.89,-2.23],[-1.72,-2.23],[-2.06,-2.32],[-2.23,-2.23],[-2.47,-2.23]];
const mcS4 = [[-0.29,0.50],[-0.11,0.56],[-0.19,0.44],[-0.07,0.34],[-0.40,0.36],[-0.45,0.28],[-0.51,0.15],[-0.32,0.15],[-0.13,0.21],[-0.26,0.05],[-0.39,-0.04],[-0.51,0.02],[-0.58,-0.07],[-0.64,-0.17],[-0.70,-0.23],[-0.77,-0.36],[-0.83,-0.42],[-0.90,-0.52],[-0.96,-0.55],[-1.02,-0.58],[-1.09,-0.65],[-1.15,-0.71],[-1.21,-0.81],[-1.09,-0.81],[-0.96,-0.74],[-0.77,-0.61],[-0.64,-0.55],[-0.51,-0.49],[-0.39,-0.42],[-0.26,-0.36],[-0.13,-0.23],[0.00,-0.10],[0.06,0.02],[0.00,0.21],[-0.70,-0.68],[-0.83,-0.81],[-0.96,-0.93],[-1.02,-1.06],[-1.09,-1.16],[-1.15,-1.25],[-1.21,-1.41],[-1.28,-1.51],[-1.34,-1.57],[-1.41,-1.67],[-1.47,-1.73],[-1.53,-1.83],[-1.60,-1.92],[-1.66,-1.99],[-1.72,-2.05],[-1.79,-2.08],[-1.88,-2.15],[-1.98,-2.24],[-2.08,-2.11],[-2.17,-2.15],[-2.27,-2.18],[-2.17,-2.30],[-0.96,-1.19],[-0.83,-1.06],[-0.70,-0.93],[-0.58,-0.87],[-0.48,-0.81],[-0.39,-0.68],[-0.29,-0.61],[-0.77,-1.32],[-0.64,-1.19],[-0.51,-1.13],[-0.45,-1.32],[-0.58,-1.38],[-0.70,-1.51],[-0.83,-1.64],[-0.90,-1.76],[-1.02,-1.64],[-1.09,-1.51],[-1.15,-1.64],[-1.21,-1.76],[-1.28,-1.89],[-1.34,-1.99],[-1.41,-2.11],[-1.50,-2.15],[-1.34,-2.24],[-1.21,-2.30],[-1.09,-2.27],[-0.96,-2.24],[-0.90,-2.21],[-0.83,-2.05],[-0.70,-1.92],[-0.64,-1.79],[-0.58,-1.70],[-0.45,-1.57],[-0.48,-1.51],[-0.32,-1.28],[-0.26,-1.19],[-0.16,-1.19],[-0.02,-0.85],[0.06,-0.90],[0.14,-0.85],[-0.07,-1.00],[0.01,-1.06],[-0.03,-1.13],[-0.29,-1.22],[-1.28,-0.71],[-1.18,-0.68],[-1.53,-1.67],[-1.66,-1.76],[-1.79,-1.89]];
const mcS4b = [[-0.77,-0.37],[-0.64,-0.43],[-0.45,-0.40],[-0.34,-0.53],[-0.51,-0.63],[-0.66,-0.59],[-0.79,-0.56],[-0.96,-0.53],[-1.09,-0.55],[-1.17,-0.68],[-1.04,-0.71],[-0.90,-0.74],[-0.75,-0.71],[-0.58,-0.69],[-0.47,-0.78],[-0.66,-0.81],[-0.79,-0.81],[-0.92,-0.78],[-1.04,-0.83],[-1.15,-0.81],[-0.83,-0.96],[-0.70,-0.93],[-0.79,-0.89],[-0.96,-0.92],[-0.87,-1.02],[-1.02,-1.11],[-0.90,-1.13],[-0.77,-1.08],[-0.64,-1.11],[-0.53,-1.05],[-0.45,-1.13],[-0.53,-1.20],[-0.66,-1.20],[-0.79,-1.23],[-0.92,-1.23],[-1.04,-1.22],[-1.15,-1.26],[-0.87,-1.32],[-0.75,-1.32],[-0.62,-1.30],[-0.49,-1.29],[-0.41,-1.38],[-0.53,-1.41],[-0.66,-1.38],[-0.79,-1.38],[-0.92,-1.41],[-1.04,-1.42],[-1.17,-1.41],[-1.26,-1.44],[-1.34,-1.53],[-1.21,-1.53],[-1.09,-1.51],[-0.96,-1.51],[-0.83,-1.51],[-0.70,-1.53],[-0.58,-1.50],[-0.45,-1.47],[-0.49,-1.59],[-0.62,-1.62],[-0.75,-1.62],[-0.87,-1.62],[-1.00,-1.62],[-1.13,-1.62],[-1.26,-1.62],[-1.38,-1.59],[-1.47,-1.65],[-1.60,-1.68],[-1.68,-1.74],[-1.51,-1.75],[-1.38,-1.71],[-1.26,-1.72],[-1.13,-1.72],[-1.00,-1.74],[-0.87,-1.71],[-0.75,-1.74],[-0.62,-1.68],[-0.70,-1.83],[-0.83,-1.83],[-0.96,-1.83],[-1.09,-1.83],[-1.21,-1.83],[-1.34,-1.83],[-1.47,-1.84],[-1.60,-1.83],[-1.72,-1.87],[-1.85,-1.91],[-1.72,-1.97],[-1.60,-1.94],[-1.47,-1.94],[-1.34,-1.93],[-1.21,-1.91],[-1.09,-1.93],[-0.96,-1.94],[-0.83,-1.91],[-0.75,-1.93],[-0.83,-2.05],[-0.96,-2.03],[-1.09,-2.03],[-1.21,-2.00],[-1.34,-2.03],[-1.47,-2.05],[-1.60,-2.05],[-1.72,-2.06],[-1.85,-2.08],[-2.06,-2.12],[-1.94,-2.15],[-1.81,-2.18],[-1.68,-2.15],[-1.55,-2.15],[-1.43,-2.14],[-1.30,-2.12],[-1.17,-2.12],[-1.04,-2.12],[-0.92,-2.12],[-0.85,-2.20],[-0.96,-2.24],[-1.09,-2.27],[-1.21,-2.23],[-1.34,-2.21],[-1.47,-2.27],[-1.60,-2.26],[-1.68,-2.32],[-1.81,-2.27],[-2.19,-2.32],[-2.26,-2.18],[-1.19,-2.33],[-0.02,-0.86],[0.15,-0.86],[0.02,-0.90],[-0.07,-0.98],[0.06,-0.98],[0.02,-1.04],[-0.07,-1.14],[0.00,-1.13],[-0.17,-1.19],[-0.26,-1.20],[-0.45,-1.26]];
const mcS5 = [[-2.74,-0.74],[-2.68,-0.69],[-2.63,-0.77],[-2.59,-0.65],[-2.55,-0.55],[-2.62,-0.49],[-2.65,-0.20],[-2.59,-0.23],[-2.52,-0.30],[-2.49,-0.39],[-2.55,-0.36],[-2.59,-0.42],[-2.47,-0.07],[-2.39,-0.04],[-2.36,-0.10],[-2.43,-0.17],[-2.31,0.05],[-2.27,-0.01],[-2.22,-0.07],[-2.33,-0.20],[-2.15,0.15],[-2.11,0.18],[-2.06,0.17],[-1.98,0.12],[-2.04,0.09],[-2.14,0.02],[-2.17,-0.04],[-2.11,-0.01],[-2.23,-0.14],[-2.08,-0.10],[-2.20,-0.30],[-2.08,-0.39],[-1.98,-0.42],[-1.95,-0.41],[-2.14,-0.46],[-2.23,-0.52],[-2.30,-0.58],[-2.17,-0.55],[-2.04,-0.55],[-2.01,-0.61],[-1.82,-0.65],[-1.80,-0.52],[-2.43,-0.58],[-2.04,-0.71],[-2.14,-0.74],[-2.20,-0.81],[-2.01,-0.81],[-1.92,-0.90],[-1.98,-0.87],[-2.08,-0.93],[-2.23,-0.97],[-2.30,-0.95],[-2.36,-0.93],[-2.41,-1.01],[-2.41,-1.09],[-2.33,-1.06],[-2.25,-1.16],[-2.15,-1.06],[-2.12,-1.14],[-2.43,-1.24],[-2.33,-1.32],[-2.39,-1.41],[-1.95,-1.03],[-1.88,-1.11],[-1.82,-1.22],[-1.79,-1.32],[-1.88,-1.35],[-1.95,-1.32],[-1.92,-1.44],[-2.68,-1.97],[-2.62,-2.05],[-2.59,-2.15],[-2.52,-2.11],[-2.65,-1.78],[-2.60,-1.87],[-2.49,-1.83],[-2.43,-1.57],[-2.39,-1.67],[-2.36,-1.76],[-2.30,-1.83],[-2.23,-1.64],[-2.17,-1.73],[-2.11,-1.83],[-2.04,-1.92],[-1.98,-1.99],[-2.08,-1.44],[-2.01,-1.48],[-1.92,-1.51],[-1.85,-1.57],[-1.79,-1.64],[-1.72,-1.70],[-1.66,-1.76],[-1.60,-1.83],[-1.53,-1.92],[-1.47,-1.95],[-1.41,-2.02],[-1.72,-2.15],[-1.79,-2.21],[-1.85,-2.30],[-1.60,-1.64],[-1.50,-1.51],[-1.41,-1.44],[-1.34,-1.38],[-1.28,-1.35],[-1.95,-1.76],[-1.88,-1.86],[-2.23,-1.95],[-2.30,-2.05],[-2.36,-2.15],[-2.17,-2.11],[-2.08,-2.18],[-1.98,-2.15],[-2.49,-2.21],[-2.55,-2.24],[-1.72,-1.54],[-1.63,-1.28],[-1.53,-1.19],[-1.79,-0.39],[-1.69,-0.26],[-1.63,-0.23],[-1.53,-0.39],[-1.50,-0.49],[-1.41,-0.33],[-1.34,-0.23],[-1.28,-0.07],[-1.21,0.02],[-1.15,0.09],[-1.09,0.02],[-1.02,-0.04],[-0.96,0.09],[-0.90,0.18],[-0.83,0.15],[-0.77,0.21],[-0.70,0.28],[-0.64,0.34],[-0.54,0.37],[-0.58,0.28],[-0.48,0.09],[-0.45,0.02],[-0.39,-0.07],[-0.32,-0.10],[-0.26,-0.07],[-0.19,-0.17],[-0.13,-0.10],[-0.07,-0.04],[0.00,-0.23],[0.06,-0.42],[0.12,-0.30],[0.19,-0.17],[0.25,-0.04],[0.32,0.09],[0.38,0.41],[0.38,0.28],[0.19,0.47],[0.06,0.34],[-0.13,0.09],[-0.19,-0.30],[-0.26,-0.55],[-0.39,-0.55],[-0.51,-0.49],[-0.64,-0.36],[-0.77,-0.23],[-0.90,-0.23],[-1.02,-0.30],[-1.09,-0.42],[-1.21,-0.49],[-1.28,-0.36],[-1.34,-0.55],[-1.41,-0.65],[-0.77,-0.61],[-0.61,-0.81],[-0.51,-0.61],[-0.93,-0.87],[-0.96,0.21],[-1.09,0.21],[-1.21,-0.87],[-1.28,-1.06],[-1.41,-1.19],[-1.50,-1.28],[-1.63,-1.38]];
const mcS5b = [[-2.57,-0.38],[-2.47,-0.38],[-2.28,-0.40],[-2.09,-0.37],[-1.96,-0.41],[-1.81,-0.40],[-1.64,-0.40],[-1.51,-0.40],[-1.38,-0.37],[-2.57,-0.49],[-2.45,-0.50],[-2.26,-0.49],[-2.13,-0.46],[-2.04,-0.44],[-1.89,-0.49],[-1.64,-0.49],[-2.66,-0.61],[-2.57,-0.58],[-2.45,-0.59],[-2.30,-0.58],[-2.15,-0.61],[-2.04,-0.62],[-1.94,-0.56],[-1.79,-0.53],[-2.72,-0.74],[-2.64,-0.71],[-2.68,-0.75],[-2.28,-0.65],[-2.15,-0.68],[-2.02,-0.68],[-1.83,-0.65],[-2.06,-0.74],[-2.00,-0.78],[-2.19,-0.83],[-2.09,-0.84],[-1.96,-0.87],[-1.89,-0.90],[-2.30,-0.95],[-2.19,-0.95],[-2.11,-0.96],[-2.00,-0.93],[-2.38,-1.01],[-2.40,-1.10],[-2.32,-1.08],[-2.15,-1.07],[-1.94,-1.05],[-2.23,-1.17],[-2.13,-1.14],[-1.89,-1.11],[-2.43,-1.23],[-2.36,-1.23],[-2.34,-1.30],[-1.89,-1.19],[-1.85,-1.24],[-1.72,-1.26],[-1.66,-1.29],[-2.40,-1.41],[-1.85,-1.38],[-1.77,-1.35],[-2.06,-1.44],[-1.94,-1.47],[-1.81,-1.44],[-1.64,-1.41],[-1.51,-1.50],[-1.64,-1.51],[-2.40,-1.57],[-2.32,-1.62],[-2.21,-1.63],[-2.11,-1.57],[-2.00,-1.53],[-1.89,-1.54],[-1.81,-1.57],[-1.72,-1.62],[-1.60,-1.65],[-2.64,-1.77],[-2.47,-1.74],[-2.36,-1.74],[-2.26,-1.75],[-2.15,-1.72],[-2.04,-1.68],[-1.94,-1.65],[-1.85,-1.68],[-1.81,-1.72],[-1.68,-1.68],[-2.57,-1.85],[-2.47,-1.83],[-2.36,-1.83],[-2.28,-1.85],[-2.17,-1.83],[-2.06,-1.77],[-1.98,-1.80],[-1.89,-1.81],[-1.81,-1.83],[-1.72,-1.85],[-2.68,-1.97],[-2.60,-1.88],[-2.53,-1.94],[-2.45,-1.94],[-2.34,-1.91],[-2.23,-1.91],[-2.13,-1.88],[-2.02,-1.94],[-1.92,-1.91],[-1.81,-1.91],[-1.72,-1.94],[-2.62,-2.06],[-2.53,-2.03],[-2.45,-2.02],[-2.36,-2.03],[-2.26,-2.03],[-2.15,-2.00],[-2.04,-1.97],[-1.94,-2.02],[-1.85,-2.06],[-1.72,-2.06],[-2.57,-2.17],[-2.49,-2.12],[-2.38,-2.12],[-2.28,-2.12],[-2.17,-2.09],[-2.09,-2.12],[-1.98,-2.15],[-1.85,-2.18],[-1.72,-2.17],[-2.66,-2.30],[-2.53,-2.26],[-2.40,-2.23],[-2.28,-2.24],[-2.15,-2.21],[-2.02,-2.24],[-1.85,-2.30],[-2.23,-2.30]];

const lumData = [lumS1.concat(lumS1b), lumS2.concat(lumS2b), lumS3.concat(lumS3b), lumS4.concat(lumS4b), lumS5.concat(lumS5b)];
const lData = [lcS1.concat(lcS1b), lcS2.concat(lcS2b), lcS3.concat(lcS3b), lcS4.concat(lcS4b), lcS5.concat(lcS5b)];
const mData = [mcS1.concat(mcS1b), mcS2.concat(mcS2b), mcS3.concat(mcS3b), mcS4.concat(mcS4b), mcS5.concat(mcS5b)];

const panelTitles = ["Luminance", "L-cones", "M-cones"];
const xName = "{n|1}{s|st}{n| measurement (µV)}";
const yName = "{n|2}{s|nd}{n| measurement (µV)}";

export default function App() {
  const ref = useRef<HTMLDivElement>(null);
  useEffect(() => {
    const el = ref.current;
    if (!el) return;
    const W = el.clientWidth || REF_W;
    const H = el.clientHeight || REF_H;
    const sx = W / REF_W;
    const sy = H / REF_H;
    const s = Math.min(sx, sy);
    const X = (v: number) => Math.round(v * sx);
    const Y = (v: number) => Math.round(v * sy);

    const chart = echarts.init(el, undefined, { renderer: "svg", width: W, height: H });

    const nameRich = {
      n: { fontSize: 90 * s, fontFamily: FONT, color: "#000", lineHeight: 100 * s },
      s: { fontSize: 54 * s, fontFamily: FONT, color: "#000", lineHeight: 60 * s, verticalAlign: "top" },
    };

    const symbolDefs = [
      { symbol: "circle", size: 28 * s, rotate: 0, border: 0 },
      { symbol: "triangle", size: [32 * s, 28 * s], rotate: 180, border: 3.5 },
      { symbol: "rect", size: 27 * s, rotate: 0, border: 3.5 },
      { symbol: "diamond", size: [35 * s, 35 * s], rotate: 0, border: 3.5 },
      { symbol: "triangle", size: [32 * s, 28 * s], rotate: 0, border: 3.5 },
    ];

    const makeAxis = (gridIndex: number, min: number, max: number, ticks: number[], isX: boolean, nameGap: number) => ({
      type: "value",
      gridIndex,
      min,
      max,
      name: isX ? xName : yName,
      nameLocation: "middle",
      nameGap,
      nameRotate: isX ? 0 : 90,
      nameTextStyle: { rich: nameRich },
      axisLine: { show: true, onZero: false, lineStyle: { color: "#000", width: 6 } },
      axisTick: { show: true, inside: false, length: 28 * s, customValues: ticks, lineStyle: { color: "#000", width: 5 } },
      axisLabel: { show: true, customValues: ticks, fontSize: 70 * s, fontFamily: FONT, color: "#000", margin: isX ? Y(76) : X(66) },
      splitLine: { show: false },
    });

    const grids = [
      { left: X(317), top: Y(156), width: X(1503), height: Y(1496) },
      { left: X(2414), top: Y(1323), width: X(1500), height: Y(1500) },
      { left: X(317), top: Y(2399), width: X(1500), height: Y(1500) },
    ].map((g) => ({ ...g, show: true, borderColor: "#000", borderWidth: 6, backgroundColor: "transparent", containLabel: false }));

    const ranges = [
      { min: -5, max: 4, ticks: lumTicks, xGap: Y(306) - 50 * s, yGap: X(180) },
      { min: -4, max: 2, ticks: lTicks, xGap: Y(306) - 50 * s, yGap: X(190) },
      { min: -3, max: 2, ticks: mTicks, xGap: Y(292) - 50 * s, yGap: X(180) },
    ];
    const xAxis = ranges.map((r, i) => makeAxis(i, r.min, r.max, r.ticks, true, r.xGap));
    const yAxis = ranges.map((r, i) => makeAxis(i, r.min, r.max, r.ticks, false, r.yGap));

    const datasets = [lumData, lData, mData];
    const orders = [[0, 1, 2, 3, 4], [0, 1, 4, 2, 3], [0, 1, 2, 4, 3]];
    const series: any[] = [];
    datasets.forEach((panel, pi) => {
      orders[pi].forEach((si) => {
        const d = symbolDefs[si];
        series.push({
          type: "scatter",
          name: seriesNames[si],
          xAxisIndex: pi,
          yAxisIndex: pi,
          data: panel[si],
          symbol: d.symbol,
          symbolSize: d.size,
          symbolRotate: d.rotate,
          large: false,
          itemStyle: { color: seriesColors[si], borderColor: "#000", borderWidth: d.border, opacity: 1 },
          emphasis: { disabled: true },
        });
      });
      const r = ranges[pi];
      series.push({
        type: "line",
        xAxisIndex: pi,
        yAxisIndex: pi,
        data: [[r.min, r.min], [r.max, r.max]],
        symbol: "none",
        lineStyle: { color: "#000", width: 7, type: [100 * s, 50 * s] },
        z: 3,
        silent: true,
      });
    });

    const titlePos = [
      { left: 1068, top: 12 },
      { left: 3164, top: 1174 },
      { left: 1067, top: 2262 },
    ];
    const title = panelTitles.map((t, i) => ({
      text: t,
      left: X(titlePos[i].left),
      top: Y(titlePos[i].top),
      textAlign: "center",
      padding: 0,
      textStyle: { fontSize: 100 * s, lineHeight: 100 * s, fontWeight: "normal", fontFamily: FONT, color: "#000" },
    }));

    const lx = X(2496);
    const rows = [533, 648, 763, 875, 988].map(Y);
    const k = s;
    const legendGraphics: any[] = [
      { type: "rect", shape: { x: X(2339), y: Y(427), width: X(464), height: Y(663) }, style: { fill: "none", stroke: "#000", lineWidth: 5 } },
      { type: "circle", shape: { cx: lx, cy: rows[0], r: 13 * k }, style: { fill: seriesColors[0] } },
      { type: "polygon", shape: { points: [[lx - 16 * k, rows[1] - 12 * k], [lx + 16 * k, rows[1] - 12 * k], [lx, rows[1] + 15 * k]] }, style: { fill: seriesColors[1], stroke: "#000", lineWidth: 4, lineJoin: "round" } },
      { type: "rect", shape: { x: lx - 13 * k, y: rows[2] - 13 * k, width: 26 * k, height: 26 * k }, style: { fill: seriesColors[2], stroke: "#000", lineWidth: 4 } },
      { type: "polygon", shape: { points: [[lx - 18 * k, rows[3]], [lx, rows[3] - 17 * k], [lx + 18 * k, rows[3]], [lx, rows[3] + 17 * k]] }, style: { fill: seriesColors[3], stroke: "#000", lineWidth: 4, lineJoin: "round" } },
      { type: "polygon", shape: { points: [[lx - 16 * k, rows[4] + 13 * k], [lx + 16 * k, rows[4] + 13 * k], [lx, rows[4] - 14 * k]] }, style: { fill: seriesColors[4], stroke: "#000", lineWidth: 4, lineJoin: "round" } },
    ];
    seriesNames.forEach((n, i) => {
      legendGraphics.push({
        type: "text",
        x: X(2649),
        y: rows[i],
        style: { text: n, fontSize: 84 * s, fontFamily: FONT, fill: "#000", verticalAlign: "middle", align: "left" },
      });
    });

    chart.setOption({
      animation: false,
      backgroundColor: "#fff",
      title,
      grid: grids,
      xAxis,
      yAxis,
      series,
      graphic: legendGraphics,
    });
    return () => chart.dispose();
  }, []);
  return <div ref={ref} style={{ position: "fixed", left: 0, top: 0, width: "100vw", height: "100vh", overflow: "hidden" }} />;
}
